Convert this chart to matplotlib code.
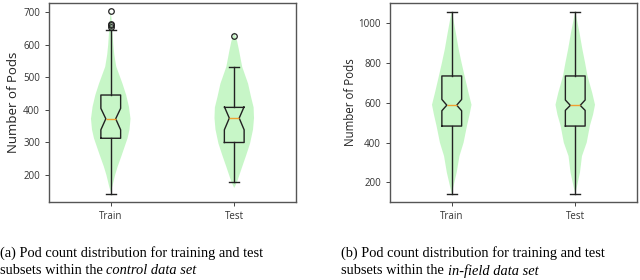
import numpy as np
import matplotlib
matplotlib.use("Agg")
import matplotlib.pyplot as plt

# ---- data ----
labels = ["Train", "Test"]

# (a) control data set: box stats
ctrl_med = [373, 375]
ctrl_q1 = [313, 300]
ctrl_q3 = [446, 408]
ctrl_lo = [143, 180]
ctrl_hi = [645, 533]
ctrl_cilo = [339, 339]
ctrl_cihi = [405, 410]
ctrl_fliers = [[655, 660, 665, 703], [627]]

# (a) violin outlines (value, relative density)
ctrl_train_y = [148, 165, 200, 226, 260, 290, 313, 340, 373, 410, 446, 480, 500, 533, 570, 600, 645, 680, 705]
ctrl_train_d = [0.0, 0.08, 0.22, 0.35, 0.55, 0.72, 0.85, 0.95, 1.0, 0.92, 0.78, 0.6, 0.48, 0.28, 0.18, 0.13, 0.08, 0.04, 0.0]
ctrl_test_y = [160, 180, 225, 260, 297, 340, 375, 408, 440, 481, 533, 584, 610, 630, 640]
ctrl_test_d = [0.0, 0.15, 0.4, 0.6, 0.8, 0.95, 1.0, 0.98, 0.85, 0.7, 0.4, 0.24, 0.15, 0.05, 0.0]

# (b) in-field data set: box stats
field_med = [588, 587]
field_q1 = [483, 483]
field_q3 = [735, 735]
field_lo = [143, 143]
field_hi = [1058, 1058]
field_cilo = [560, 562]
field_cihi = [617, 614]
field_fliers = [[], []]

field_train_y = [143, 181, 250, 332, 400, 484, 540, 590, 650, 735, 800, 870, 950, 1020, 1060]
field_train_d = [0.0, 0.09, 0.25, 0.39, 0.6, 0.77, 0.9, 1.0, 0.85, 0.65, 0.5, 0.35, 0.21, 0.08, 0.0]
field_test_y = [143, 181, 250, 332, 400, 484, 540, 590, 650, 735, 800, 870, 950, 1020, 1060]
field_test_d = [0.0, 0.09, 0.24, 0.34, 0.58, 0.74, 0.9, 1.0, 0.86, 0.62, 0.5, 0.36, 0.22, 0.08, 0.0]

captions = [
    ("(a) Pod count distribution for training and test", "subsets within the ", "control data set"),
    ("(b) Pod count distribution for training and test", "subsets within the ", "in-field data set"),
]

TICK_FONT = "Open Sans"
CAP_FONT = "Liberation Serif"


def box_stats(med, q1, q3, lo, hi, cilo, cihi, fliers):
    return [dict(label=labels[i], med=med[i], q1=q1[i], q3=q3[i], whislo=lo[i],
                 whishi=hi[i], cilo=cilo[i], cihi=cihi[i], fliers=fliers[i])
            for i in range(len(labels))]


def violin_stats(ys, ds):
    out = []
    for y, d in zip(ys, ds):
        y = np.asarray(y, float)
        out.append(dict(coords=y, vals=np.asarray(d, float), mean=y.mean(),
                        median=np.median(y), min=y.min(), max=y.max()))
    return out


def draw_panel(ax, vstats, bstats, ylim, yticks, ylabel_size):
    vp = ax.violin(vstats, positions=[1, 2], widths=0.32, showmeans=False,
                   showextrema=False, showmedians=False)
    for body in vp["bodies"]:
        body.set_facecolor("#90ee90")
        body.set_edgecolor("none")
        body.set_alpha(0.5)
    ax.bxp(bstats, positions=[1, 2], widths=0.16, shownotches=True,
           boxprops=dict(color="#222222", lw=1.0),
           whiskerprops=dict(color="#222222", lw=1.0),
           capprops=dict(color="#222222", lw=1.0),
           medianprops=dict(color="#f0a030", lw=1.0),
           flierprops=dict(marker="o", markersize=4, markerfacecolor="none",
                           markeredgecolor="#222222", markeredgewidth=0.9))
    ax.set_xlim(0.5, 2.5)
    ax.set_ylim(*ylim)
    ax.set_yticks(yticks)
    ax.set_xticks([1, 2])
    ax.set_xticklabels(labels)
    ax.set_ylabel("Number of Pods", fontsize=ylabel_size, family=TICK_FONT, color="#222222")
    ax.tick_params(labelsize=7, length=3, width=0.7, color="#444444", labelcolor="#333333")
    for lab in ax.get_xticklabels() + ax.get_yticklabels():
        lab.set_family(TICK_FONT)
    for sp in ax.spines.values():
        sp.set_color("#555555")
        sp.set_linewidth(1.0)


fig = plt.figure(figsize=(6.4, 2.8), dpi=100)
W, H = 640, 280

ax1 = fig.add_axes([49 / W, 1 - 202 / H, 247 / W, 199 / H])
draw_panel(ax1, violin_stats([ctrl_train_y, ctrl_test_y], [ctrl_train_d, ctrl_test_d]),
           box_stats(ctrl_med, ctrl_q1, ctrl_q3, ctrl_lo, ctrl_hi, ctrl_cilo, ctrl_cihi, ctrl_fliers),
           (117, 729), [200, 300, 400, 500, 600, 700], 9.5)
ax1.yaxis.set_label_coords(-(49 - 20) / 247, 0.5)

ax2 = fig.add_axes([390 / W, 1 - 202 / H, 247 / W, 199 / H])
draw_panel(ax2, violin_stats([field_train_y, field_test_y], [field_train_d, field_test_d]),
           box_stats(field_med, field_q1, field_q3, field_lo, field_hi, field_cilo, field_cihi, field_fliers),
           (101, 1102), [200, 400, 600, 800, 1000], 8.3)
ax2.yaxis.set_label_coords(-(390 - 357) / 247, 0.5)

# captions: first line plain, second line plain + italic part
fig.canvas.draw()
renderer = fig.canvas.get_renderer()
for x0, (line1, line2a, line2b) in zip([0, 341], captions):
    fig.text(x0 / W, 1 - 253 / H, line1, family=CAP_FONT, fontsize=10.4, va="center", ha="left")
    t = fig.text(x0 / W, 1 - 271 / H, line2a, family=CAP_FONT, fontsize=10.4, va="center", ha="left")
    bb = t.get_window_extent(renderer)
    fig.text(bb.x1 / W, 1 - 271 / H, line2b, family=CAP_FONT, fontsize=10.4, style="italic",
             va="center", ha="left")

fig.savefig("out.png", dpi=100)
